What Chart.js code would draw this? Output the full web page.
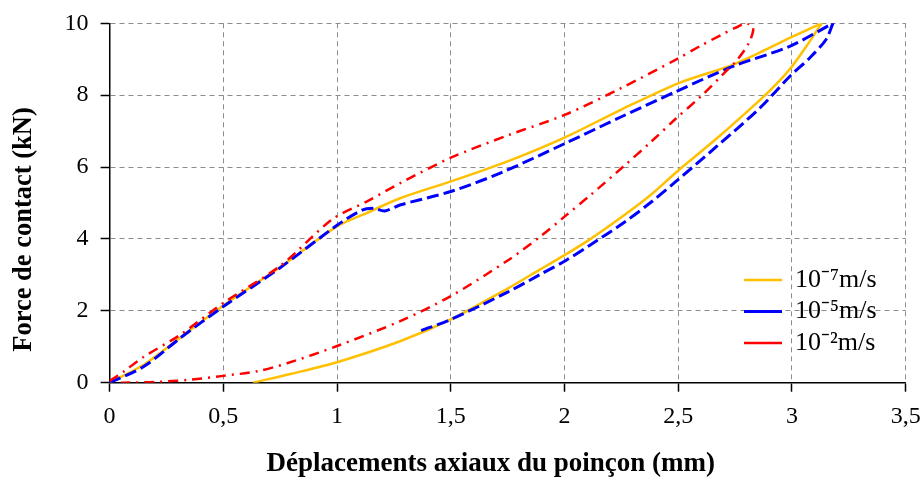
<!DOCTYPE html>
<html>
<head>
<meta charset="utf-8">
<script src="https://cdn.jsdelivr.net/npm/chart.js@4/dist/chart.umd.min.js"></script>
<style>
  html, body { margin: 0; padding: 0; background: #fff; }
  #wrap { width: 921px; height: 480px; position: relative; }
</style>
</head>
<body>
<div id="wrap"><canvas id="chart-force"></canvas></div>
<script>
// Force / displacement loops for three punch speeds (loading then unloading).
// The turning point is listed twice so the loop keeps a sharp tip.
const disp7 = [0, 0.15, 0.31, 0.5, 0.75, 1.0, 1.13, 1.28, 1.5, 1.75, 2.0, 2.25, 2.5, 2.75, 3.0, 3.13,
    3.13, 3.07, 3.0, 2.93, 2.86, 2.67, 2.49, 2.38, 2.26, 2.11, 2.0, 1.89, 1.75, 1.5, 1.28, 1.0, 0.8, 0.63];
const force7 = [0, 0.5, 1.25, 2.15, 3.22, 4.35, 4.72, 5.14, 5.6, 6.16, 6.82, 7.6, 8.33, 8.87, 9.62, 10,
    10, 9.42, 8.8, 8.3, 7.87, 6.8, 5.85, 5.23, 4.65, 3.98, 3.55, 3.14, 2.62, 1.76, 1.16, 0.57, 0.25, 0];

const disp5 = [0, 0.15, 0.31, 0.5, 0.75, 1.0, 1.11, 1.16, 1.21, 1.28, 1.5, 1.72, 2.0, 2.25, 2.49, 2.74, 2.99, 3.18,
    3.18, 3.15, 3.08, 2.99, 2.86, 2.67, 2.49, 2.38, 2.26, 2.11, 2.0, 1.89, 1.75, 1.5, 1.37];
const force5 = [0, 0.45, 1.24, 2.12, 3.2, 4.38, 4.8, 4.85, 4.78, 4.95, 5.32, 5.84, 6.65, 7.4, 8.1, 8.8, 9.36, 10,
    10, 9.55, 9.05, 8.52, 7.65, 6.58, 5.6, 5.02, 4.45, 3.82, 3.38, 3.0, 2.52, 1.76, 1.45];

const disp2 = [0, 0.06, 0.15, 0.31, 0.5, 0.75, 0.98, 1.13, 1.28, 1.5, 1.75, 2.0, 2.25, 2.49, 2.6, 2.69, 2.75, 2.8,
    2.83, 2.81, 2.76, 2.7, 2.6, 2.49, 2.38, 2.26, 2.11, 2.0, 1.89, 1.75, 1.5, 1.28, 1.0, 0.78, 0.65, 0.5, 0.35, 0.2, 0.05];
const force2 = [0.05, 0.3, 0.72, 1.33, 2.22, 3.25, 4.55, 5.04, 5.56, 6.26, 6.88, 7.45, 8.2, 8.99, 9.38, 9.68, 9.87, 10,
    9.88, 9.45, 8.99, 8.6, 7.97, 7.35, 6.7, 6.02, 5.2, 4.62, 4.05, 3.4, 2.41, 1.72, 1.02, 0.54, 0.32, 0.19, 0.08, 0.02, 0];

const seriesLabels = ['10\u207B\u2077m/s', '10\u207B\u2075m/s', '10\u207B\u00B2m/s'];
const xTickLabels = ['0', '0,5', '1', '1,5', '2', '2,5', '3', '3,5'];
const yTickLabels = ['0', '2', '4', '6', '8', '10'];

const SERIF = "'Liberation Serif', 'Times New Roman', serif";

function toPoints(xs, ys) {
    return xs.map((x, i) => ({ x: x, y: ys[i] }));
}

// keep the legend inside the plot, bottom right
const legendSpot = {
    id: 'legendSpot',
    afterLayout(chart) {
        const lg = chart.legend;
        if (!lg) return;
        lg.left = 738.5;
        lg.top = 261.5;
        lg.right = 921;
        lg.bottom = 480;
    },
};

// let the layout padding alone decide the plot edges
function noLabelPadding(scale) {
    scale.paddingLeft = 0;
    scale.paddingRight = 0;
    scale.paddingTop = 0;
    scale.paddingBottom = 0;
}

new Chart(document.getElementById('chart-force'), {
    type: 'scatter',
    data: {
        datasets: [
            {
                label: seriesLabels[0],
                data: toPoints(disp7, force7),
                borderColor: '#FFC000',
                borderWidth: 2.5,
                order: 2,
            },
            {
                label: seriesLabels[1],
                data: toPoints(disp5, force5),
                borderColor: '#0000FF',
                borderWidth: 3,
                borderDash: [12, 5],
                order: 1,
            },
            {
                label: seriesLabels[2],
                data: toPoints(disp2, force2),
                borderColor: '#FF0000',
                borderWidth: 2.5,
                borderDash: [10, 6, 2, 6],
                order: 0,
            },
        ].map(ds => Object.assign(ds, {
            showLine: true,
            pointRadius: 0,
            tension: 0.3,
            fill: false,
            backgroundColor: ds.borderColor,
        })),
    },
    options: {
        responsive: true,
        maintainAspectRatio: false,
        animation: false,
        layout: { padding: { top: 23.3, right: 15.3, left: 0, bottom: 0 } },
        plugins: {
            tooltip: { enabled: false },
            legend: {
                position: 'chartArea',
                align: 'start',
                labels: {
                    usePointStyle: true,
                    pointStyle: 'line',
                    pointStyleWidth: 38,
                    padding: 5.5,
                    color: '#000',
                    font: { family: SERIF, size: 26 },
                    sort: (a, b) => a.datasetIndex - b.datasetIndex,
                },
            },
        },
        scales: {
            x: {
                type: 'linear',
                min: 0,
                max: 3.5,
                afterFit: scale => {
                    scale.height = 97.3;
                    noLabelPadding(scale);
                },
                afterBuildTicks: scale => {
                    scale.ticks = xTickLabels.map((t, i) => ({ value: i * 0.5 }));
                },
                ticks: {
                    color: '#000',
                    padding: 11,
                    maxRotation: 0,
                    font: { family: SERIF, size: 24 },
                    callback: (val, i) => xTickLabels[i],
                },
                grid: {
                    color: '#8c8c8c',
                    lineWidth: 1,
                    tickLength: 9,
                    tickColor: '#000',
                    tickWidth: 1.5,
                    tickBorderDash: [],
                },
                border: { display: true, color: '#000', width: 1.5, dash: [5, 4] },
                title: {
                    display: true,
                    text: 'D\u00e9placements axiaux du poin\u00e7on (mm)     ',
                    color: '#000',
                    padding: { top: 0, bottom: 0 },
                    font: { family: SERIF, size: 27, weight: 'bold' },
                },
            },
            y: {
                type: 'linear',
                min: 0,
                max: 10,
                afterFit: scale => {
                    scale.width = 109.6;
                    noLabelPadding(scale);
                },
                afterBuildTicks: scale => {
                    scale.ticks = yTickLabels.map((t, i) => ({ value: i * 2 }));
                },
                ticks: {
                    color: '#000',
                    padding: 12,
                    font: { family: SERIF, size: 24 },
                    callback: (val, i) => yTickLabels[i],
                },
                grid: {
                    color: '#8c8c8c',
                    lineWidth: 1,
                    tickLength: 9,
                    tickColor: '#000',
                    tickWidth: 1.5,
                    tickBorderDash: [],
                },
                border: { display: true, color: '#000', width: 1.5, dash: [5, 4] },
                title: {
                    display: true,
                    text: 'Force de contact (kN)        ',
                    color: '#000',
                    padding: { top: 8, bottom: 0 },
                    font: { family: SERIF, size: 26.5, weight: 'bold' },
                },
            },
        },
    },
    plugins: [legendSpot],
});
</script>
</body>
</html>
